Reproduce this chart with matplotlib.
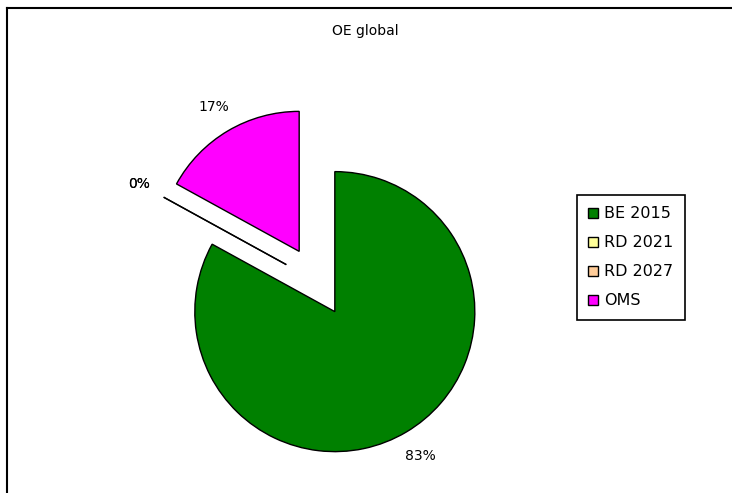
import numpy as np
import matplotlib.pyplot as plt
from matplotlib.lines import Line2D

labels = ["BE 2015", "RD 2021", "RD 2027", "OMS"]
values = [83, 0, 0, 17]
colors = ["#008000", "#FFFF99", "#FFCC99", "#FF00FF"]
title = "OE global"

W, H = 732, 493
fig = plt.figure(figsize=(W / 100, H / 100), dpi=100)
plt.rcParams['font.family'] = ['DejaVu Sans']

ax = fig.add_axes([0, 0, 1, 1])
# pie center in pixels, radius in pixels
cx, cy, r = 317, 281.5, 140

wedges, texts, autotexts = ax.pie(
    values, colors=colors, startangle=90, counterclock=False,
    explode=[0.25] * 4, autopct=lambda p: "%d%%" % round(p),
    pctdistance=1.2, labeldistance=None,
    wedgeprops=dict(edgecolor="black", linewidth=1.0),
    textprops=dict(fontsize=10))
ax.set_aspect('auto')
ax.set_xlim(-cx / r, (W - cx) / r)
ax.set_ylim(-(H - cy) / r, cy / r)
ax.axis('off')

fig.text(365 / W, 1 - 31 / H, title, ha='center', va='center', fontsize=10)

handles = [Line2D([], [], marker='s', ls='', markersize=7, markerfacecolor=c,
                  markeredgecolor='black', markeredgewidth=1) for c in colors]
leg = fig.legend(handles, labels, loc='upper left',
                 bbox_to_anchor=(577 / W, 1 - 195 / H), bbox_transform=fig.transFigure,
                 borderaxespad=0, fontsize=11.5, fancybox=False, framealpha=1,
                 edgecolor='black', handlelength=0.55, handletextpad=0.45,
                 labelspacing=0.88, borderpad=0.7)
leg.get_frame().set_linewidth(1.2)

# outer chart frame (cropped on right and bottom)
fig.add_artist(Line2D([7 / W, 7 / W], [0, 1 - 8 / H], color='black', lw=1.5,
                      transform=fig.transFigure))
fig.add_artist(Line2D([7 / W, 1], [1 - 8 / H, 1 - 8 / H], color='black', lw=1.5,
                      transform=fig.transFigure))

fig.savefig("out.png", dpi=100)
